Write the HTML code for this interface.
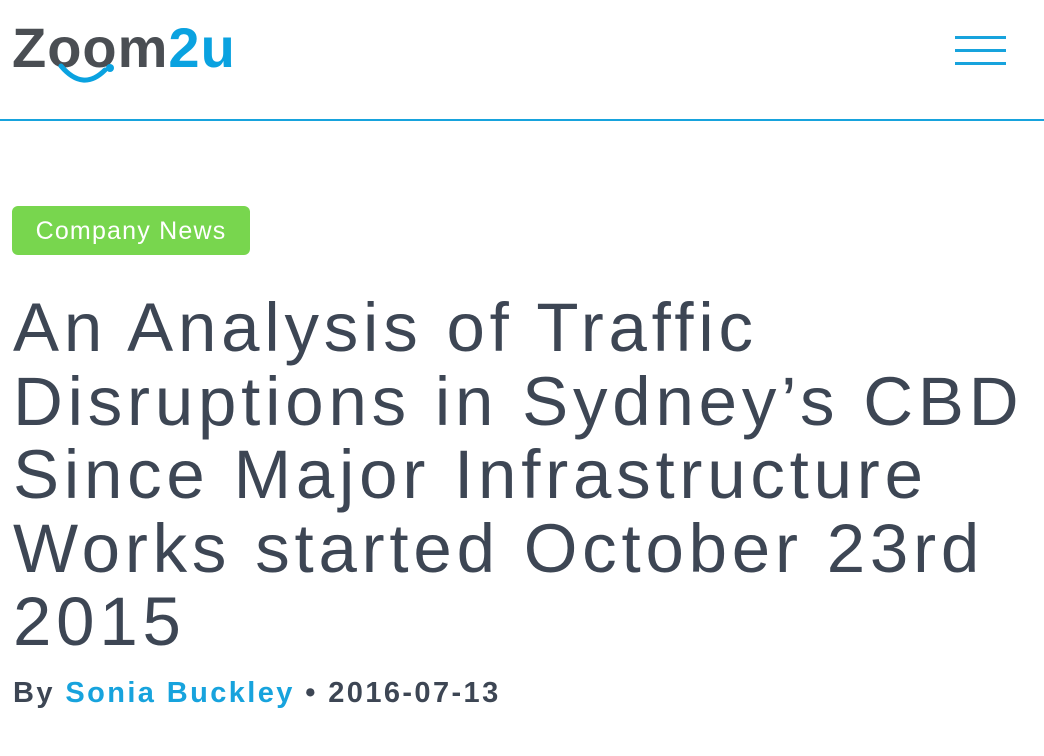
<!DOCTYPE html>
<html><head><style>
body{margin:0;width:1044px;height:756px;background:#fff;overflow:hidden;font-family:"Liberation Sans",sans-serif;position:relative}
.logo{position:absolute;left:12px;top:18px;font-size:56px;font-weight:bold;color:#4a4e53;letter-spacing:1px;line-height:60px}
.logo span{color:#0aa2e0}
.hl{position:absolute;left:0;top:119px;width:1044px;height:2px;background:#17a3dd}
.hb{position:absolute;left:955px;width:51px;height:3px;background:#17a3dd}
.badge{position:absolute;left:12px;top:206px;width:238px;height:49px;background:#78d64e;border-radius:6px;color:#fff;font-size:25px;letter-spacing:1.2px;line-height:51px;text-align:center}
h1{position:absolute;left:13px;top:291px;margin:0;font-weight:normal;font-size:69px;line-height:73.5px;color:#3d4654;letter-spacing:4.8px;width:1040px;white-space:nowrap}
.by{position:absolute;left:13px;top:677px;font-size:29px;font-weight:bold;color:#3d4654;letter-spacing:2.4px}
.by span{color:#17a3dd}
</style></head><body>
<div class="logo">Zoom<span>2u</span></div>
<svg style="position:absolute;left:58px;top:60px" width="60" height="30"><path d="M3 6 Q25 32 47 10" stroke="#0aa2e0" stroke-width="5" fill="none" stroke-linecap="round"/><circle cx="52" cy="8" r="4" fill="#0aa2e0"/></svg>
<div class="hb" style="top:36px"></div><div class="hb" style="top:49px"></div><div class="hb" style="top:62px"></div>
<div class="hl"></div>
<div class="badge">Company News</div>
<h1>An Analysis of Traffic<br>Disruptions in Sydney’s CBD<br>Since Major Infrastructure<br>Works started October 23rd<br>2015</h1>
<div class="by">By <span>Sonia Buckley</span> • 2016-07-13</div>
</body></html>
